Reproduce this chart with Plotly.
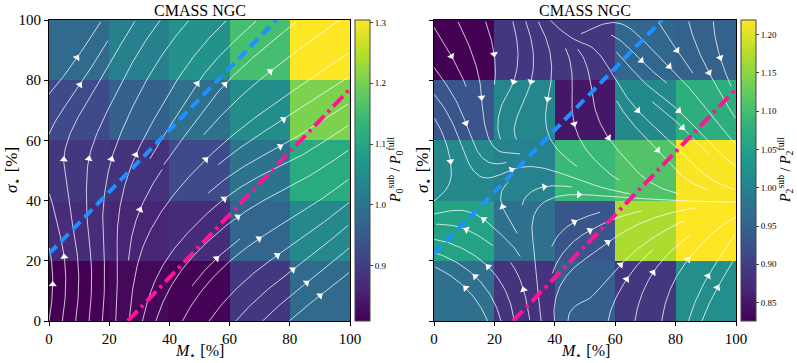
import numpy as np
import plotly.graph_objects as go
from plotly.figure_factory._streamline import _Streamline

# ---------------- data ----------------
m_centers = [10, 30, 50, 70, 90]          # M_star bin centres [%]
s_centers = [10, 30, 50, 70, 90]          # sigma_star bin centres [%]
grid_nodes = [0, 25, 50, 75, 100]         # nodes on which the gradient field is laid out
tick_vals = [0, 20, 40, 60, 80, 100]

# rows: sigma bins bottom -> top, columns: M bins left -> right
p0_ratio = [
    [0.809, 0.820, 0.812, 0.890, 0.980],
    [0.870, 0.860, 0.870, 0.970, 1.040],
    [0.890, 0.880, 0.920, 1.000, 1.110],
    [0.920, 0.960, 0.990, 1.050, 1.205],
    [0.980, 1.025, 1.060, 1.155, 1.304],
]
p2_ratio = [
    [0.970, 0.885, 0.944, 0.890, 1.020],
    [1.052, 0.970, 0.930, 1.170, 1.219],
    [1.010, 1.000, 1.092, 1.110, 1.216],
    [0.930, 1.008, 0.850, 1.011, 1.072],
    [0.826, 0.890, 0.888, 0.956, 0.948],
]

dash_line_m = [0.0, 75.5]
dash_line_s = [22.3, 100.0]
dashdot_line_m = [26.2, 100.0]
dashdot_line_s = [0.0, 77.1]

panel_title = "CMASS NGC"
cb_titles = ["<i>P</i><sub>0</sub><sup>sub</sup> / <i>P</i><sub>0</sub><sup>full</sup>",
             "<i>P</i><sub>2</sub><sup>sub</sup> / <i>P</i><sub>2</sub><sup>full</sup>"]

# ---------------- layout constants ----------------
W, H = 797, 363
FONT = "Liberation Serif, DejaVu Serif, serif"
y0px, y1px = 20, 321
panels = [
    dict(x0=49, x1=350, cbx=355, vals=p0_ratio, dtick=0.1, fmt=".1f", cbt_x=395,
         xa="x", ya="y", ytitle_x=13, show_ylabels=True),
    dict(x0=434, x1=736, cbx=741, vals=p2_ratio, dtick=0.05, fmt=".2f", cbt_x=785,
         xa="x2", ya="y2", ytitle_x=424, show_ylabels=False),
]

fine = np.linspace(0, 100, 51)


def interp_grid(a, px, py):
    """bilinear interpolation of a node array a[y, x] at points px, py"""
    tmp = np.array([np.interp(px, grid_nodes, row) for row in a])      # (5, n)
    return np.array([np.interp(py[j], grid_nodes, tmp[:, j]) for j in range(len(px))])


def gradient_field(vals):
    z = np.array(vals, dtype=float)
    gy, gx = np.gradient(z, 20.0, 20.0)
    FX, FY = np.meshgrid(fine, fine)
    U = interp_grid(gx, FX.ravel(), FY.ravel()).reshape(FX.shape)
    V = interp_grid(gy, FX.ravel(), FY.ravel()).reshape(FX.shape)
    return U, V, gx, gy


def streamlines(vals):
    U, V, gx, gy = gradient_field(vals)
    st = _Streamline(fine, fine, U, V, 0.8, np.pi / 9, 0.09)
    lx, ly, ax, ay = [], [], [], []
    for sx, sy in zip(st.st_x, st.st_y):
        sx = np.array(sx, dtype=float)
        sy = np.array(sy, dtype=float)
        ok = ~np.isnan(sx) & ~np.isnan(sy)
        sx, sy = sx[ok], sy[ok]
        if len(sx) < 3:
            continue
        lx += sx.tolist() + [None]
        ly += sy.tolist() + [None]
        d = np.hypot(np.diff(sx), np.diff(sy))
        cum = np.concatenate([[0], np.cumsum(d)])
        i = int(np.searchsorted(cum, cum[-1] / 2))
        i = min(max(i, 0), len(sx) - 1)
        ax.append(sx[i])
        ay.append(sy[i])
    ax = np.array(ax)
    ay = np.array(ay)
    ua = interp_grid(gx, ax, ay)
    va = interp_grid(gy, ax, ay)
    ang = np.degrees(np.arctan2(ua, va))
    return lx, ly, ax, ay, ang


fig = go.Figure()
annotations = []
layout = dict(width=W, height=H, margin=dict(l=0, r=0, t=0, b=0),
              paper_bgcolor="white", plot_bgcolor="white", showlegend=False,
              font=dict(family=FONT, color="black"))


def note(text, xpx, ypx, size, angle=0):
    return dict(text=text, x=xpx / W, y=1 - ypx / H, xref="paper", yref="paper",
                xanchor="center", yanchor="middle", showarrow=False, textangle=angle,
                font=dict(size=size, family=FONT, color="black"))


for k, p in enumerate(panels):
    ydom = [1 - y1px / H, 1 - y0px / H]
    fig.add_trace(go.Heatmap(
        x=m_centers, y=s_centers, z=p["vals"], colorscale="Viridis",
        xaxis=p["xa"], yaxis=p["ya"], hoverinfo="skip",
        colorbar=dict(x=p["cbx"] / W, xanchor="left", xpad=0, ypad=0,
                      thickness=15, len=(y1px - y0px) / H, lenmode="fraction",
                      y=sum(ydom) / 2, yanchor="middle",
                      outlinewidth=1, outlinecolor="#444",
                      ticks="outside", ticklen=3, tickcolor="#444",
                      dtick=p["dtick"], tickformat=p["fmt"],
                      tickfont=dict(size=9, family=FONT)),
    ))
    lx, ly, ax, ay, ang = streamlines(p["vals"])
    fig.add_trace(go.Scatter(x=lx, y=ly, mode="lines", xaxis=p["xa"], yaxis=p["ya"],
                             line=dict(color="rgba(255,255,255,0.75)", width=1),
                             hoverinfo="skip"))
    fig.add_trace(go.Scatter(x=ax, y=ay, mode="markers", xaxis=p["xa"], yaxis=p["ya"],
                             marker=dict(symbol="triangle-up", size=7, color="white",
                                         angle=ang, line=dict(width=0)),
                             hoverinfo="skip"))
    fig.add_trace(go.Scatter(x=dash_line_m, y=dash_line_s, mode="lines",
                             xaxis=p["xa"], yaxis=p["ya"],
                             line=dict(color="#1E90FF", width=4, dash="11px,6px")))
    fig.add_trace(go.Scatter(x=dashdot_line_m, y=dashdot_line_s, mode="lines",
                             xaxis=p["xa"], yaxis=p["ya"],
                             line=dict(color="#FF1493", width=4, dash="14px,5px,3px,5px")))

    axcommon = dict(range=[0, 100], showgrid=False, zeroline=False, showline=True,
                    mirror=True, linecolor="black", linewidth=1, ticks="outside",
                    ticklen=4, tickcolor="black", tickvals=tick_vals,
                    tickfont=dict(size=15, family=FONT), automargin=False)
    xname = "xaxis" if k == 0 else "xaxis2"
    yname = "yaxis" if k == 0 else "yaxis2"
    layout[xname] = dict(axcommon, domain=[p["x0"] / W, p["x1"] / W], anchor=p["ya"],
                         ticklabelstandoff=0)
    layout[yname] = dict(axcommon, domain=ydom, anchor=p["xa"],
                         showticklabels=p["show_ylabels"])

    cx = (p["x0"] + p["x1"]) / 2
    annotations.append(note(panel_title, cx, 10, 16))
    annotations.append(note("<i>M</i><sub>⋆</sub> [%]", cx, 351, 16))
    annotations.append(note("<i>σ</i><sub>⋆</sub> [%]", p["ytitle_x"], 170, 17, -90))
    annotations.append(note(cb_titles[k], p["cbt_x"], 170, 14, -90))

layout["annotations"] = annotations
fig.update_layout(**layout)
fig.write_html("out.html", config={"displayModeBar": False},
               post_script="document.body.style.margin='0px';document.body.style.overflow='hidden';")
